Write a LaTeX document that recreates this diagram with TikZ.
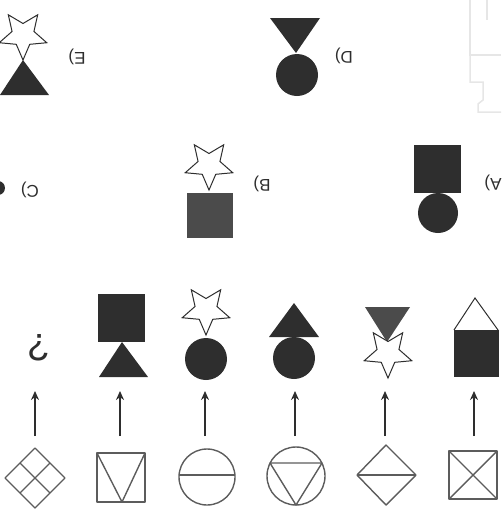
\documentclass[tikz,border=0pt]{standalone}
\usepackage{fontspec}
\setmainfont{Liberation Sans}
\usetikzlibrary{arrows.meta}
\definecolor{ink}{HTML}{2E2E2E}
\definecolor{gink}{HTML}{4B4B4B}
\definecolor{lineg}{HTML}{5C5C5C}
\definecolor{faint}{HTML}{E6E6E6}
\tikzset{
  solidfill/.style={fill=ink,draw=none},
  fig/.style={draw=lineg,line width=1.4pt,line join=round},
  arr/.style={draw=ink,line width=2pt,-{Stealth[length=9pt,width=8pt]}},
  lab/.style={rotate=180,font=\fontsize{17}{17}\selectfont,text=ink,inner sep=0pt},
  starout/.style={draw=ink,fill=white,line width=1pt,line join=miter},
  pics/dstar/.style={code={
    \draw[starout] (90:25) -- (126:11.5) -- (162:25) -- (198:11.5) -- (234:25) -- (270:11.5)
      -- (306:25) -- (342:11.5) -- (18:25) -- (54:11.5) -- cycle;}}
}
\begin{document}
\begin{tikzpicture}[x=1pt,y=-1pt]
\useasboundingbox (0,0) rectangle (501,517);

% faint scan artefact, top right
\draw[faint,line width=1.5pt] (470,0) -- (470,55) -- (501,55);
\draw[faint,line width=1.5pt] (487,0) -- (487,20);
\draw[faint,line width=1.5pt] (470,55) -- (470,82) -- (483,82) -- (483,100) -- (478,104) -- (478,112) -- (501,112);

% ---- E ----
\fill[solidfill] (0,95) -- (23,60) -- (49,95) -- cycle;
\pic at (23,35) {dstar};
\node[lab] (labE) at (77,57) {E)};

% ---- D ----
\fill[solidfill] (297,75) circle (21);
\fill[solidfill] (270,18) -- (320,18) -- (296,53) -- cycle;
\node[lab] (labD) at (344,56) {D)};

% ---- A ----
\fill[solidfill] (414,145) rectangle (461,193);
\fill[solidfill] (438,213) circle (20);
\node[lab] (labA) at (493,183) {A)};

% ---- B ----
\fill[gink] (187,193) rectangle (233,238);
\pic at (209,165) {dstar};
\node[lab] (labB) at (262,184) {B)};

% ---- C ----
\fill[solidfill] (-2,188) circle (7);
\node[lab] (labC) at (30,190) {C)};

% ---- answer row ----
\node[rotate=180,font=\fontsize{38}{38}\selectfont,text=ink,inner sep=0pt] (q) at (39,348) {?};

\fill[solidfill] (98,294) rectangle (145,342);
\fill[solidfill] (99,377) -- (122,342) -- (148,377) -- cycle;

\fill[solidfill] (206,359) circle (21);
\pic at (206,310) {dstar};

\fill[solidfill] (269,337) -- (294,303) -- (319,337) -- cycle;
\fill[solidfill] (294,358) circle (21);

\fill[gink] (365,307) -- (410,307) -- (387,342) -- cycle;
\pic at (388,353) {dstar};

\draw[draw=ink,line width=1pt,line join=miter] (454,330) -- (475,298) -- (498,330);
\fill[solidfill] (454,330) rectangle (499,377);

% ---- arrows ----
\foreach \i/\x in {1/35,2/120,3/205,4/295,5/385,6/474}{
  \coordinate (f\i) at (\x,436);
  \coordinate (a\i) at (\x,391);
  \draw[arr] (f\i) -- (a\i);
}

% ---- bottom figures ----
% 1: diamond with grid
\draw[fig] (35,448) -- (65,478) -- (35,508) -- (5,478) -- cycle;
\draw[fig] (20,463) -- (50,493);
\draw[fig] (50,463) -- (20,493);
% 2: square with V
\draw[fig] (97,453) rectangle (145,502);
\draw[fig] (97,453) -- (122,502) -- (145,453);
% 3: circle with diameter
\draw[fig] (207,477) circle (28);
\draw[fig] (179,475) -- (235,475);
% 4: circle with inscribed inverted triangle
\draw[fig] (296,476) circle (29);
\draw[fig] (270,463) -- (322,463) -- (296,505) -- cycle;
% 5: diamond with horizontal line
\draw[fig] (386,445) -- (416,475) -- (386,505) -- (357,475) -- cycle;
\draw[fig] (357,475) -- (416,475);
% 6: square with X
\draw[fig] (449,451) rectangle (497,499);
\draw[fig] (449,451) -- (497,499);
\draw[fig] (497,451) -- (449,499);
\end{tikzpicture}
\end{document}
